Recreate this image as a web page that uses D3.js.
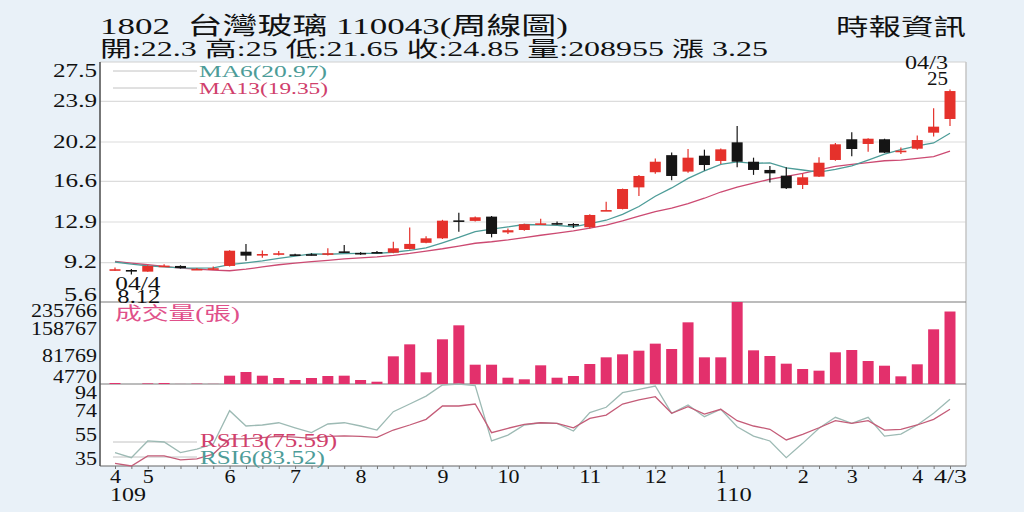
<!DOCTYPE html>
<html>
<head>
<meta charset="utf-8">
<script src="https://cdn.jsdelivr.net/npm/d3@7"></script>
<style>
  body { margin: 0; background: #e9f1f8; }
  svg { display: block; }
</style>
</head>
<body>
<svg id="chart" width="1024" height="512" viewBox="0 0 1024 512"></svg>
<script>
// weekly candles, month/week-of-month (109/04 week 3 .. 110/04 week 3)
const weeks = ["04/3","04/4","05/1","05/2","05/3","05/4","05/5","06/1","06/2","06/3","06/4",
  "07/1","07/2","07/3","07/4","08/1","08/2","08/3","08/4","08/5","09/1","09/2","09/3","09/4",
  "10/1","10/2","10/3","10/4","10/5","11/1","11/2","11/3","11/4","12/1","12/2","12/3","12/4",
  "01/1","01/2","01/3","01/4","01/5","02/1","02/2","02/3","03/1","03/2","03/3","03/4",
  "04/1","04/2","04/3"];

const open = [8.56,8.52,8.37,8.88,8.89,8.60,8.64,8.89,10.19,9.95,10.00,9.95,9.96,10.00,10.22,
  10.08,10.16,10.10,10.44,11.00,11.41,13.05,13.00,13.39,11.95,12.17,12.75,12.80,12.72,12.42,
  13.95,14.09,16.06,17.44,19.00,17.50,18.95,18.47,20.17,18.40,17.65,17.13,16.28,17.04,18.56,
  20.45,20.02,20.45,19.38,19.59,21.05,22.30];
const high = [8.75,8.60,8.95,9.05,8.95,8.70,8.85,10.32,10.90,10.30,10.25,10.00,10.05,10.50,10.80,
  10.15,10.25,11.10,12.40,11.60,13.10,13.75,13.40,13.45,12.30,12.75,13.20,12.95,12.80,13.60,
  14.75,15.95,17.20,18.70,19.24,19.55,19.50,19.60,21.66,18.77,18.00,17.90,17.30,18.80,20.10,
  21.10,20.55,20.50,19.70,20.80,23.28,25.00];
const low = [8.45,8.12,8.35,8.80,8.65,8.55,8.55,8.85,9.37,9.64,9.85,9.85,9.85,9.85,10.10,
  9.90,10.05,10.05,10.40,10.95,11.35,12.00,12.95,11.50,11.80,12.10,12.70,12.65,12.35,12.30,
  13.90,14.05,15.27,17.30,16.70,17.40,17.60,18.20,17.90,17.20,16.50,15.90,15.90,17.00,18.50,
  18.90,19.30,19.20,19.10,19.50,20.70,21.65];
const close = [8.59,8.42,8.89,8.92,8.70,8.62,8.68,10.28,9.83,9.98,10.05,9.92,9.92,10.05,10.20,
  10.05,10.13,10.50,10.90,11.41,13.02,13.02,13.33,11.81,12.15,12.70,12.78,12.78,12.57,13.54,
  13.99,15.91,17.10,18.40,17.10,18.77,18.10,19.53,18.40,17.65,17.34,15.98,16.98,18.31,19.99,
  19.56,20.50,19.23,19.41,20.38,21.60,24.85];

// moving averages before enough weeks are shown
const ma6Head = [9.25,9.05,8.90,8.80,8.72];
const ma13Head = [9.30,9.15,9.00,8.85,8.70,8.60,8.50,8.45,8.60,8.80,9.00,9.15];

// volume (張)
const volume = [7500,4770,6500,7500,5000,6000,5200,28200,38570,28200,21670,16040,21670,27300,
  28200,16040,11240,82760,116470,37690,130670,170060,59150,59150,22500,18000,57380,22500,27300,
  61110,79920,88350,98630,118430,103340,178490,79920,79920,235766,99610,83640,62000,47000,42300,
  94030,100540,69540,56310,26420,60230,158790,208955];

const rsi6 = [41.1,37.1,50.4,49.6,41.1,44.0,48.0,74.5,62.3,63.1,64.9,60.9,57.0,63.9,64.9,62.3,
  59.1,73.7,79.8,86.1,94.9,95.7,94.5,50.5,55.1,63.1,64.9,64.4,58.3,72.9,77.2,88.8,91.5,94.1,
  72.4,79.0,69.7,75.6,61.7,54.3,50.4,37.1,48.5,60.5,69.2,64.4,69.2,54.3,55.9,63.1,72.4,83.52];
const rsi13 = [32.6,30.5,38.5,38.5,35.3,36.1,40.0,52.0,52.0,53.0,54.0,53.5,52.5,54.0,54.5,54.0,
  53.2,59.1,63.1,67.6,78.2,78.2,79.8,57.0,60.5,63.6,64.9,64.4,60.9,68.4,71.0,79.8,83.0,85.6,
  72.4,77.6,71.8,75.6,66.5,62.3,59.7,51.2,55.7,60.9,66.5,64.4,66.5,59.1,59.7,63.1,67.6,75.59];

const priceTicks = [27.5, 23.9, 20.2, 16.6, 12.9, 9.2, 5.6];
const volTicks = [235766, 158767, 81769, 4770];
const rsiTicks = [94, 74, 55, 35];
const yearIdx = [0, 37];
const yearText = ["109", "110"];

const titleText = "1802\u00a0\u00a0台灣玻璃 110043(周線圖)";
const quoteText = "開:22.3 高:25 低:21.65 收:24.85 量:208955 漲 3.25";
const sourceText = "時報資訊";
const legendMA = ["MA6(20.97)", "MA13(19.35)"];
const legendRSI = ["RSI13(75.59)", "RSI6(83.52)"];
const volTitle = "成交量(張)";

// ---------------------------------------------------------------
const svg = d3.select("#chart");
const plotL = 100, plotR = 966;
const priceTop = 62, priceBot = 302, volBot = 384, rsiBot = 466;
const serif = "'Liberation Serif','DejaVu Serif','Noto Sans CJK TC',serif";
const red = "#e5312b", black = "#151515";
const idx = d3.range(weeks.length);
const last = idx.length - 1;

const x = d3.scalePoint().domain(idx).range([115, 950]);
const yPrice = d3.scaleLinear().domain(d3.extent(priceTicks)).range([priceBot, priceTop]);
const yVol = d3.scaleLinear().domain(d3.extent(volume)).range([volBot, priceBot]);
const yRsi = d3.scaleLinear().domain(d3.extent(rsi6.concat(rsi13))).range([rsiBot, volBot]);

const ma6 = idx.map(i => i < 5 ? ma6Head[i] : d3.mean(close.slice(i - 5, i + 1)));
const ma13 = idx.map(i => i < 12 ? ma13Head[i] : d3.mean(close.slice(i - 12, i + 1)));

// plot background
svg.append("rect")
  .attr("x", plotL).attr("y", priceTop)
  .attr("width", plotR - plotL).attr("height", rsiBot - priceTop)
  .attr("fill", "#fff");

// price grid
svg.append("g").selectAll("line")
  .data(priceTicks.slice(1, -1))
  .enter().append("line")
  .attr("x1", plotL).attr("x2", plotR)
  .attr("y1", d => yPrice(d)).attr("y2", d => yPrice(d))
  .attr("stroke", "#dcdcdc").attr("stroke-width", 1.2);

// frame
svg.append("line").attr("x1", plotL).attr("x2", plotR).attr("y1", priceTop).attr("y2", priceTop)
  .attr("stroke", "#d0d0d0");
svg.append("line").attr("x1", plotR).attr("x2", plotR).attr("y1", priceTop).attr("y2", rsiBot)
  .attr("stroke", "#c4c4c4").attr("stroke-width", 1.5);
[priceBot, volBot].forEach(y => {
  svg.append("line").attr("x1", plotL).attr("x2", plotR).attr("y1", y).attr("y2", y)
    .attr("stroke", "#7a7a7a").attr("stroke-width", 1.2);
});
svg.append("line").attr("x1", plotL).attr("x2", plotR).attr("y1", rsiBot).attr("y2", rsiBot)
  .attr("stroke", "#666").attr("stroke-width", 1.2);
svg.append("line").attr("x1", plotL).attr("x2", plotL).attr("y1", priceTop).attr("y2", rsiBot)
  .attr("stroke", "#555").attr("stroke-width", 1.6);

// legend lines
function legendLine(y) {
  svg.append("line").attr("x1", 113).attr("x2", 197).attr("y1", y).attr("y2", y)
    .attr("stroke", "#c2c2c2").attr("stroke-width", 1);
}
legendLine(71); legendLine(88); legendLine(442); legendLine(457);

// moving averages
const lineGen = d3.line().x((d, i) => x(i));
svg.append("path").datum(ma13)
  .attr("d", lineGen.y(d => yPrice(d)))
  .attr("fill", "none").attr("stroke", "#cc4a72").attr("stroke-width", 1.3);
svg.append("path").datum(ma6)
  .attr("d", lineGen.y(d => yPrice(d)))
  .attr("fill", "none").attr("stroke", "#4d9c98").attr("stroke-width", 1.3);

// candles
const candleW = 11;
const candles = svg.append("g").selectAll("g")
  .data(idx).enter().append("g");
candles.append("line")
  .attr("x1", i => x(i)).attr("x2", i => x(i))
  .attr("y1", i => yPrice(high[i])).attr("y2", i => yPrice(low[i]))
  .attr("stroke", i => close[i] >= open[i] ? red : black)
  .attr("stroke-width", 1.2);
candles.append("rect")
  .attr("x", i => x(i) - candleW / 2)
  .attr("width", candleW)
  .attr("y", i => yPrice(Math.max(open[i], close[i])))
  .attr("height", i => Math.max(1.6, yPrice(Math.min(open[i], close[i])) - yPrice(Math.max(open[i], close[i]))))
  .attr("fill", i => close[i] >= open[i] ? red : black);

// volume bars
svg.append("g").selectAll("rect")
  .data(idx).enter().append("rect")
  .attr("x", i => x(i) - candleW / 2)
  .attr("width", candleW)
  .attr("y", i => yVol(volume[i]))
  .attr("height", i => volBot - yVol(volume[i]))
  .attr("fill", "#e3306c");

// rsi lines
svg.append("path").datum(rsi6)
  .attr("d", lineGen.y(d => yRsi(d)))
  .attr("fill", "none").attr("stroke", "#9dbab4").attr("stroke-width", 1.3);
svg.append("path").datum(rsi13)
  .attr("d", lineGen.y(d => yRsi(d)))
  .attr("fill", "none").attr("stroke", "#c45c78").attr("stroke-width", 1.3);

// text helper
function label(str, xPos, yPos, size, fill, width, anchor) {
  const t = svg.append("text")
    .attr("x", xPos).attr("y", yPos)
    .attr("font-family", serif).attr("font-size", size)
    .attr("fill", fill).attr("text-anchor", anchor || "start")
    .text(str);
  if (width) t.attr("textLength", width).attr("lengthAdjust", "spacingAndGlyphs");
  return t;
}

// y axes
function yAxis(scale, ticks, fmt, top, bot) {
  const g = svg.append("g")
    .attr("transform", `translate(${plotL},0)`)
    .call(d3.axisLeft(scale).tickValues(ticks).tickSize(0).tickPadding(3).tickFormat(fmt));
  g.select(".domain").remove();
  g.attr("font-family", serif).attr("font-size", 18);
  g.selectAll(".tick")
    .attr("transform", d => `translate(0,${Math.max(top + 9, Math.min(bot - 7, scale(d)))})`);
  g.selectAll(".tick text")
    .attr("fill", "#111")
    .attr("textLength", function () { return this.textContent.length * 11; })
    .attr("lengthAdjust", "spacingAndGlyphs");
}
yAxis(yPrice, priceTicks, d3.format(".1f"), priceTop, priceBot);
yAxis(yVol, volTicks, d3.format("d"), priceBot, volBot);
yAxis(yRsi, rsiTicks, d3.format("d"), volBot, rsiBot);

// x axis: a small tick every week, labels at the first week of each month
const xMinor = svg.append("g")
  .attr("transform", `translate(0,${rsiBot})`)
  .call(d3.axisBottom(x).tickValues(idx).tickSize(3).tickFormat(""));
xMinor.select(".domain").remove();
xMinor.selectAll(".tick line").attr("stroke", "#777");

const monthIdx = idx.filter(i => i === 0 || i === last || weeks[i].endsWith("/1"));
const monthLabel = i => {
  const [m, w] = weeks[i].split("/");
  return i === last ? `${+m}/${w}` : String(+m);
};
const xLab = svg.append("g")
  .attr("transform", `translate(0,${rsiBot})`)
  .call(d3.axisBottom(x).tickValues(monthIdx).tickSize(0).tickPadding(4).tickFormat(monthLabel));
xLab.select(".domain").remove();
xLab.attr("font-family", serif).attr("font-size", 18);
xLab.selectAll(".tick text")
  .attr("fill", "#111")
  .attr("textLength", function () { return this.textContent.length * 11; })
  .attr("lengthAdjust", "spacingAndGlyphs");

yearIdx.forEach((i, k) => label(yearText[k], x(i) - 5, 501, 18, "#111", yearText[k].length * 12));

// legends
label(legendMA[0], 199, 77, 17, "#4d9c98", 128);
label(legendMA[1], 199, 94, 17, "#d0406c", 129);
label(legendRSI[0], 200, 447, 19, "#d0406c", 137);
label(legendRSI[1], 200, 464, 19, "#4d9c98", 125);
label(volTitle, 115, 320, 18, "#e0508a", 125);

// high / low annotations
const hi = d3.maxIndex(high), lo = d3.minIndex(low);
label(weeks[hi], x(hi) - 2, yPrice(high[hi]) - 20, 18, "#111", 43, "end");
label(String(high[hi]), x(hi) - 2, yPrice(high[hi]) - 4, 18, "#111", 21, "end");
label(weeks[lo], x(lo) - 16, yPrice(low[lo]) + 16, 18, "#111", 45);
label(d3.format(".2f")(low[lo]), x(lo) - 14, yPrice(low[lo]) + 29, 18, "#111", 43);

// header
label(titleText, 100, 34, 24, "#111", 468);
label(quoteText, 100, 56, 21, "#111", 668);
label(sourceText, 836, 35, 23, "#111", 130);
</script>
</body>
</html>
